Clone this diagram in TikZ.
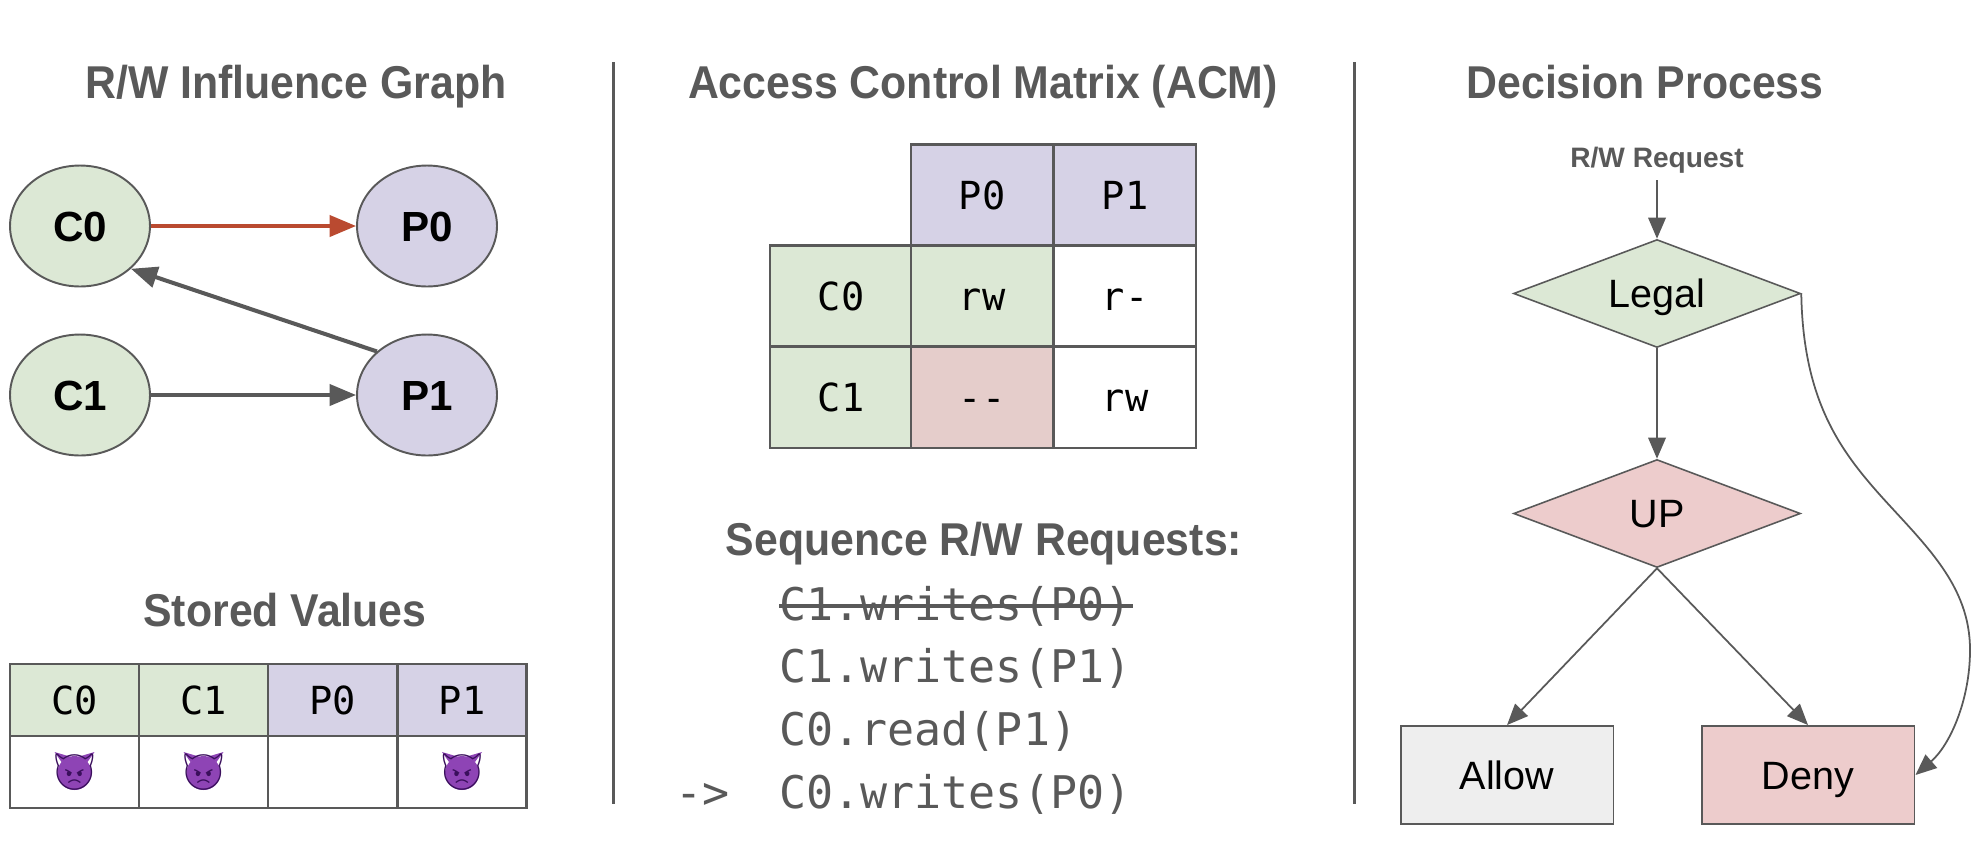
\documentclass[tikz,border=0pt]{standalone}
\usepackage{fontspec}
\setmainfont{Liberation Sans}
\setmonofont{DejaVu Sans Mono}
\newfontfamily\headfont[FakeStretch=0.93]{Liberation Sans}
\newfontfamily\emojifont{Noto Emoji}
\usetikzlibrary{arrows.meta,shapes.geometric}
\definecolor{linegray}{HTML}{595959}
\definecolor{clientgreen}{HTML}{DCE8D5}
\definecolor{pagepurple}{HTML}{D6D2E6}
\definecolor{denyred}{HTML}{EDCCCC}
\definecolor{emptyred}{HTML}{E5CDCB}
\definecolor{allowgray}{HTML}{EEEEEE}
\definecolor{leakred}{HTML}{BA4A30}
\definecolor{devilpurple}{HTML}{8E44B5}
\definecolor{devildark}{HTML}{3A0F5C}
\tikzset{
  heading/.style={anchor=base,text=linegray,font=\headfont\bfseries\fontsize{26.2}{30}\selectfont},
  vertex/.style={ellipse,draw=linegray,line width=1.1pt,minimum width=2.8cm,minimum height=2.42cm,inner sep=0pt,text height=18pt,text depth=0pt,font=\bfseries\fontsize{24}{28}\selectfont},
  cell/.style={rectangle,draw=linegray,line width=1.2pt,inner sep=0pt,text height=16pt,text depth=0pt,font=\ttfamily\fontsize{22}{26}\selectfont},
  storedcell/.style={cell,minimum width=2.58cm,minimum height=1.44cm},
  acmcell/.style={cell,minimum width=2.84cm,minimum height=2.02cm},
  reqline/.style={anchor=base west,text=linegray,inner sep=0pt,font=\ttfamily\fontsize{25.6}{30}\selectfont},
  flowdiamond/.style={diamond,aspect=2.66,draw=linegray,line width=0.9pt,minimum width=5.74cm,minimum height=2.16cm,inner sep=0pt,text height=16pt,text depth=0pt,font=\fontsize{22.5}{26}\selectfont},
  flowbox/.style={rectangle,draw=linegray,line width=1.1pt,minimum width=4.26cm,minimum height=1.96cm,inner sep=0pt,text height=16pt,text depth=0pt,font=\fontsize{22.5}{26}\selectfont},
  thickarrow/.style={line width=2pt,draw=linegray,fill=linegray,-{Triangle[length=15pt,width=12pt]}},
  thinarrow/.style={line width=1pt,draw=linegray,-{Triangle[length=12pt,width=10pt,fill=linegray]}},
  divider/.style={line width=2pt,draw=linegray}
}
\begin{document}
\begin{tikzpicture}[x=0.02cm,y=-0.02cm]
\useasboundingbox (0,0) rectangle (1976,846);
% Influence graph
\node[heading] (graphtitle) at (296,98) {R/W Influence Graph};
\node[vertex,fill=clientgreen] (C0) at (80,226) {C0};
\node[vertex,fill=clientgreen] (C1) at (80,395) {C1};
\node[vertex,fill=pagepurple] (P0) at (427,226) {P0};
\node[vertex,fill=pagepurple] (P1) at (427,395) {P1};
\draw[thickarrow,draw=leakred,fill=leakred] (C0) -- (P0);
\draw[thickarrow] (C1) -- (P1);
\draw[thickarrow,line width=2.3pt] (P1.139) -- (C0.-40);
% Stored values
\node[heading] (storedtitle) at (285,626) {Stored Values};
\foreach \name/\x/\col in {C0/74.5/clientgreen,C1/203.5/clientgreen,P0/332.5/pagepurple,P1/462/pagepurple}{
  \node[storedcell,fill=\col] (s\name) at (\x,700) {\name};
  \node[storedcell] (v\name) at (\x,772) {};
}
\foreach \name in {C0,C1,P1}{
  \fill[devilpurple] (v\name.center) ++(0,1) circle (17);
  \fill[devilpurple] (v\name.center) ++(-13,-10) -- ++(-7,-10) -- ++(17,5) -- cycle;
  \fill[devilpurple] (v\name.center) ++(13,-10) -- ++(7,-10) -- ++(-17,5) -- cycle;
  \node[text=devildark,inner sep=0pt,font=\emojifont\fontsize{20}{24}\selectfont] (e\name) at (v\name.center) {\symbol{"1F47F}};
}
% Dividers
\coordinate (d1a) at (613.5,62);
\coordinate (d1b) at (613.5,804);
\coordinate (d2a) at (1354.5,62);
\coordinate (d2b) at (1354.5,804);
\draw[divider] (d1a) -- (d1b);
\draw[divider] (d2a) -- (d2b);
% Access control matrix
\node[heading] (acmtitle) at (983,98) {Access Control Matrix (ACM)};
\node[acmcell,fill=pagepurple] (hP0) at (982,195) {P0};
\node[acmcell,fill=pagepurple] (hP1) at (1125,195) {P1};
\node[acmcell,fill=clientgreen] (hC0) at (841,296) {C0};
\node[acmcell,fill=clientgreen] (hC1) at (841,397.5) {C1};
\node[acmcell,fill=clientgreen] (m00) at (982,296) {rw};
\node[acmcell] (m01) at (1125,296) {r-};
\node[acmcell,fill=emptyred] (m10) at (982,397.5) {--};
\node[acmcell] (m11) at (1125,397.5) {rw};
% Requests
\node[heading] (seqtitle) at (984,555) {Sequence R/W Requests:};
\node[reqline] (r0) at (779,620.5) {C1.writes(P0)};
\node[reqline] (r1) at (779,682.5) {C1.writes(P1)};
\node[reqline] (r2) at (779,745.5) {C0.read(P1)};
\node[reqline] (r3) at (779,808.5) {C0.writes(P0)};
\node[reqline] (cursor) at (675,808.5) {->};
\coordinate (s0) at (779,606);
\coordinate (s1) at (1133,606);
\draw[divider] (s0) -- (s1);
% Decision process
\node[heading] (flowtitle) at (1645,98) {Decision Process};
\node[anchor=base,text=linegray,inner sep=4pt,font=\bfseries\fontsize{16}{20}\selectfont] (req) at (1657,167) {R/W Request};
\node[flowdiamond,fill=clientgreen] (legal) at (1657,293.5) {Legal};
\node[flowdiamond,fill=denyred] (up) at (1657,513.5) {UP};
\node[flowbox,fill=allowgray] (allow) at (1507,775) {Allow};
\node[flowbox,fill=denyred] (deny) at (1808,775) {Deny};
\draw[thinarrow] (req) -- (legal);
\draw[thinarrow] (legal) -- (up);
\draw[thinarrow] (up.south) -- (allow.north);
\draw[thinarrow] (up.south) -- (deny.north);
\draw[thinarrow] (legal.east) .. controls (1803,400) and (1840,450) .. (1880,495) .. controls (1925,545) and (1970,585) .. (1970,650) .. controls (1970,700) and (1950,745) .. (deny.east);
\end{tikzpicture}
\end{document}
